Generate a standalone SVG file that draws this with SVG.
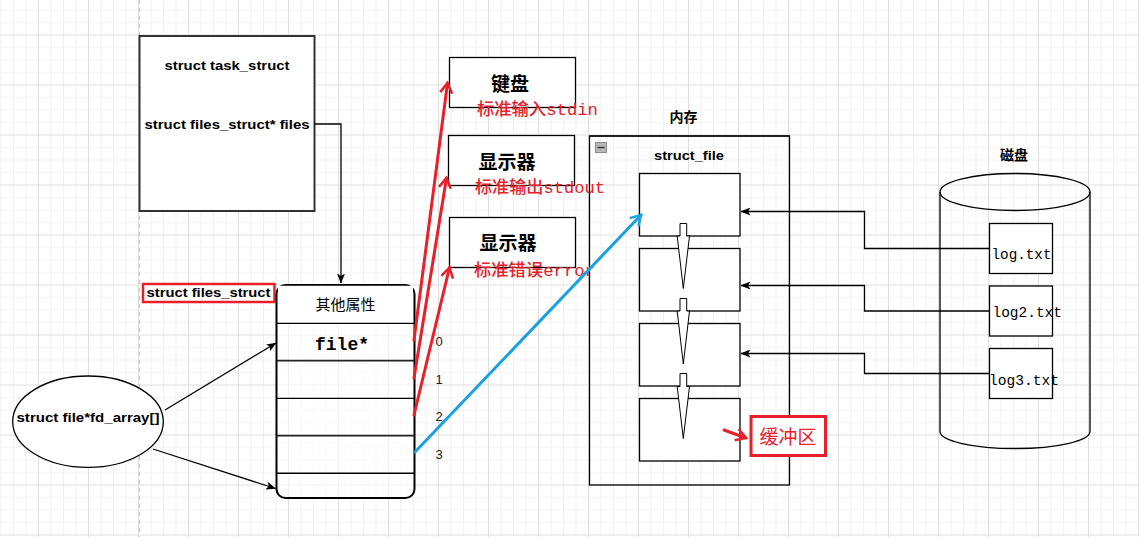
<svg xmlns="http://www.w3.org/2000/svg" width="1139" height="537" viewBox="0 0 1139 537">
<style>
.b{font-family:"Liberation Sans","Noto Sans CJK SC",sans-serif;font-weight:bold;font-size:13px;fill:#000;text-anchor:middle}
.cjk{font-family:"Noto Sans CJK SC",sans-serif;fill:#000;text-anchor:middle}
.mono{font-family:"Liberation Mono","Noto Sans CJK SC",monospace;fill:#000}
.red{font-family:"Liberation Mono","Noto Sans CJK SC",monospace;fill:#e8202a;font-size:17px;font-weight:500}
.box{fill:#fff;stroke:#000;stroke-width:1.3}
.ln{fill:none;stroke:#000;stroke-width:1.3}
.rl{fill:none;stroke:#e8202a;stroke-width:3;stroke-linecap:round}
.bl{fill:none;stroke:#1ba1e2;stroke-width:3;stroke-linecap:round}
.num{font-family:"Liberation Sans",sans-serif;font-size:13px;fill:#222;text-anchor:middle}
.fa{fill:#fff;stroke:#000;stroke-width:1}
</style>
<defs>
<pattern id="grid" patternUnits="userSpaceOnUse" x="38" y="34.5" width="50" height="50">
<rect x="12.5" y="0" width="1" height="50" fill="#f2f2f2"/>
<rect x="25" y="0" width="1" height="50" fill="#f2f2f2"/>
<rect x="37.5" y="0" width="1" height="50" fill="#f2f2f2"/>
<rect x="0" y="12.5" width="50" height="1" fill="#f2f2f2"/>
<rect x="0" y="25" width="50" height="1" fill="#f2f2f2"/>
<rect x="0" y="37.5" width="50" height="1" fill="#f2f2f2"/>
<rect x="0" y="0" width="1" height="50" fill="#dedede"/>
<rect x="0" y="0" width="50" height="1" fill="#dedede"/>
</pattern>
<marker id="ab" markerWidth="10" markerHeight="8" refX="9.5" refY="4" orient="auto" markerUnits="userSpaceOnUse">
<path d="M0,0 L10,4 L0,8 L2.5,4 Z" fill="#000"/>
</marker>
<marker id="ar" markerWidth="14" markerHeight="14" refX="11" refY="7" orient="auto" markerUnits="userSpaceOnUse">
<path d="M1,1 L11,7 L1,13" fill="none" stroke="#e8202a" stroke-width="2.5"/>
</marker>
<marker id="abl" markerWidth="14" markerHeight="14" refX="11" refY="7" orient="auto" markerUnits="userSpaceOnUse">
<path d="M1,1 L11,7 L1,13" fill="none" stroke="#1ba1e2" stroke-width="2.5"/>
</marker>
</defs>
<rect width="1139" height="537" fill="#fff"/>
<rect width="1139" height="537" fill="url(#grid)"/>
<line x1="139.5" y1="0" x2="139.5" y2="537" stroke="#c4c4c4" stroke-width="1" stroke-dasharray="4,4"/>

<g id="task_struct">
<rect x="139.5" y="36" width="175" height="175" fill="#fff" stroke="#333" stroke-width="2"/>
<text class="b" x="227" y="70" textLength="125" lengthAdjust="spacingAndGlyphs">struct task_struct</text>
<text class="b" x="227" y="129" textLength="165" lengthAdjust="spacingAndGlyphs">struct files_struct* files</text>
</g>

<g id="files_struct_label">
<rect x="143" y="284" width="131.5" height="18" fill="#fff" stroke="#e8202a" stroke-width="2.5"/>
<text class="b" x="208.5" y="297" textLength="124" lengthAdjust="spacingAndGlyphs">struct files_struct</text>
</g>

<g id="files_struct_table">
<rect x="276.5" y="285" width="138" height="213" rx="9" fill="#fff" fill-opacity="0.55" stroke="#000" stroke-width="2"/>
<path d="M278,285.8 H413 V323 H278 Z" fill="#fff" stroke="none"/>
<line x1="277" y1="323.3" x2="414" y2="323.3" stroke="#000" stroke-width="1.2"/>
<line x1="277" y1="360.7" x2="414" y2="360.7" stroke="#222" stroke-width="1.8"/>
<line x1="277" y1="398.3" x2="414" y2="398.3" stroke="#000" stroke-width="1.2"/>
<line x1="277" y1="435.7" x2="414" y2="435.7" stroke="#222" stroke-width="1.8"/>
<line x1="277" y1="473.3" x2="414" y2="473.3" stroke="#000" stroke-width="1.5"/>
<text class="cjk" x="345.5" y="309.5" font-size="15">其他属性</text>
<text class="mono" x="342" y="350" font-size="18" font-weight="bold" text-anchor="middle" textLength="54" lengthAdjust="spacingAndGlyphs">file*</text>
</g>

<g id="fd_array">
<ellipse cx="88" cy="421.7" rx="75.3" ry="45.7" fill="#fff" stroke="#000" stroke-width="1.3"/>
<text class="b" x="88" y="422" textLength="143" lengthAdjust="spacingAndGlyphs">struct file*fd_array[]</text>
</g>

<g id="indices">
<text class="num" x="439" y="346">0</text>
<text class="num" x="439" y="384">1</text>
<text class="num" x="439" y="421">2</text>
<text class="num" x="439" y="459">3</text>
</g>

<g id="keyboard">
<rect class="box" x="449.5" y="57.5" width="126" height="50"/>
<text class="cjk" x="510" y="90.5" font-size="19" font-weight="bold">键盘</text>
<text class="red" x="477" y="114.5" textLength="121" lengthAdjust="spacingAndGlyphs">标准输入stdin</text>
</g>

<g id="display_out">
<rect class="box" x="448.5" y="135.5" width="126" height="50"/>
<text class="cjk" x="507" y="168.5" font-size="19" font-weight="bold">显示器</text>
<text class="red" x="475" y="193" textLength="130" lengthAdjust="spacingAndGlyphs">标准输出stdout</text>
</g>

<g id="display_err">
<rect class="box" x="449.5" y="217.5" width="126" height="50"/>
<text class="cjk" x="508" y="250" font-size="19" font-weight="bold">显示器</text>
<text class="red" x="474" y="275.5" textLength="121" lengthAdjust="spacingAndGlyphs">标准错误error</text>
</g>

<g id="memory">
<text class="cjk" x="683.5" y="121.5" font-size="14" font-weight="bold">内存</text>
<rect x="589.5" y="136" width="200" height="349" fill="none" stroke="#000" stroke-width="1.3"/>
<line x1="589.5" y1="136" x2="789.5" y2="136" stroke="#222" stroke-width="2"/>
<rect x="595.5" y="142.5" width="11" height="10" fill="#b8b8b8" stroke="#8a8a8a" stroke-width="1"/>
<line x1="597.5" y1="147.5" x2="604.5" y2="147.5" stroke="#333" stroke-width="1.5"/>
<text class="b" x="689" y="159.5" textLength="70" lengthAdjust="spacingAndGlyphs">struct_file</text>
<rect class="box" x="639.5" y="173.5" width="100.5" height="62.5"/>
<rect class="box" x="639.5" y="248.5" width="100.5" height="62.5"/>
<rect class="box" x="639.5" y="323.5" width="100.5" height="62.5"/>
<rect class="box" x="639.5" y="398.5" width="100.5" height="62.5"/>
<path class="fa" d="M680,223.5 H686.7 V236 H689.5 L683.3,288.5 L677.2,236 H680 Z"/>
<path class="fa" d="M680,298.5 H686.7 V311 H689.5 L683.3,364 L677.2,311 H680 Z"/>
<path class="fa" d="M680,373.5 H686.7 V386.5 H689.5 L683.3,438.5 L677.2,386.5 H680 Z"/>
</g>

<g id="buffer_label">
<rect x="751" y="416.5" width="74.5" height="39" fill="#fff" stroke="#e8202a" stroke-width="3"/>
<text x="788" y="444" font-family="Noto Sans CJK SC,sans-serif" font-size="19" fill="#e8202a" text-anchor="middle">缓冲区</text>
</g>

<g id="disk">
<text class="cjk" x="1014" y="160" font-size="14" font-weight="bold">磁盘</text>
<path d="M940,192 V431.5 A75,17 0 0 0 1090,431.5 V192" fill="none" stroke="#000" stroke-width="1.3"/>
<ellipse cx="1015" cy="192" rx="75" ry="18.5" fill="none" stroke="#000" stroke-width="1.3"/>
</g>

<g id="connectors">
<path class="ln" d="M314.5,124 H341 V283" marker-end="url(#ab)"/>
<line class="ln" x1="165" y1="410" x2="276" y2="343" marker-end="url(#ab)"/>
<line class="ln" x1="153" y1="449" x2="275.5" y2="488.5" marker-end="url(#ab)"/>
<line class="rl" x1="414" y1="340" x2="447.5" y2="83" marker-end="url(#ar)"/>
<line class="rl" x1="414" y1="378" x2="446.5" y2="178" marker-end="url(#ar)"/>
<line class="rl" x1="414" y1="415" x2="449.5" y2="267.5" marker-end="url(#ar)"/>
<line class="bl" x1="415" y1="452" x2="641" y2="215" marker-end="url(#abl)"/>
<line x1="724" y1="430" x2="746" y2="438" stroke="#e8202a" stroke-width="3" stroke-linecap="round" marker-end="url(#ar)"/>
<path class="ln" d="M989.5,248.5 H864.5 V211.5 H741" marker-end="url(#ab)"/>
<path class="ln" d="M989.5,311 H864.5 V285.5 H741" marker-end="url(#ab)"/>
<path class="ln" d="M989.5,373.5 H864.5 V353.5 H741" marker-end="url(#ab)"/>
</g>

<g id="log_txt">
<rect class="box" x="989.5" y="223.5" width="63" height="50"/>
<text class="mono" x="991.5" y="258.5" font-size="15" textLength="60" lengthAdjust="spacingAndGlyphs">log.txt</text>
</g>
<g id="log2_txt">
<rect class="box" x="989.5" y="286" width="63" height="50"/>
<text class="mono" x="992.5" y="317" font-size="15" textLength="69.5" lengthAdjust="spacingAndGlyphs">log2.txt</text>
</g>
<g id="log3_txt">
<rect class="box" x="989.5" y="348.5" width="63" height="50"/>
<text class="mono" x="989" y="384.5" font-size="15" textLength="70" lengthAdjust="spacingAndGlyphs">log3.txt</text>
</g>
</svg>
